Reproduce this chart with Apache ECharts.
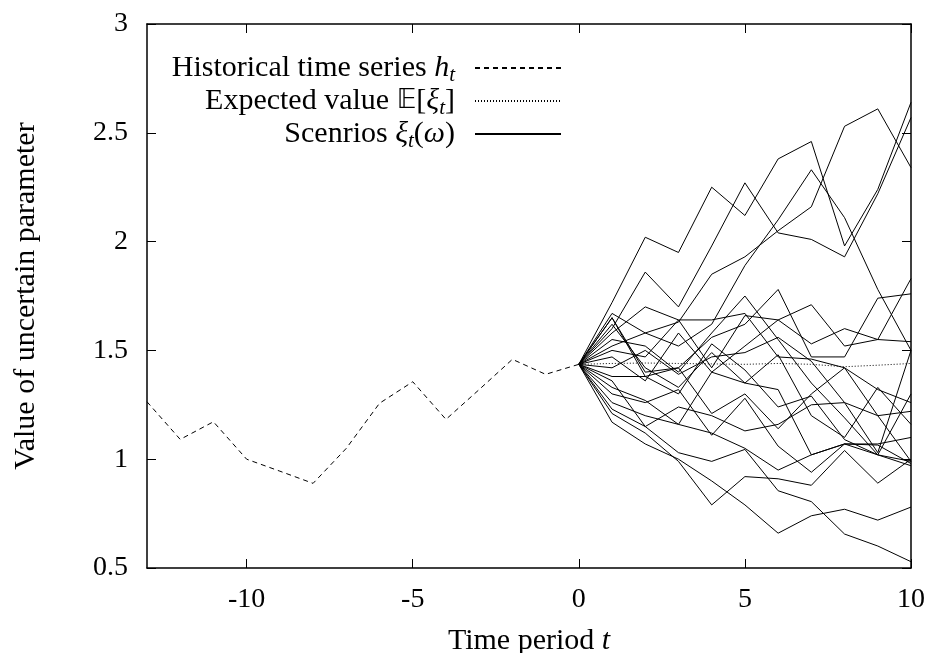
<!DOCTYPE html>
<html><head><meta charset="utf-8">
<script src="https://cdn.jsdelivr.net/npm/echarts@6/dist/echarts.min.js"></script>
<style>html,body{margin:0;padding:0;background:#fff}#c{width:931px;height:653px}</style>
</head><body><div id="c"></div>
<script>
// ---- data ----
const histT = [-13,-12,-11,-10,-9,-8,-7,-6,-5,-4,-3,-2,-1,0];
const histV = [1.264,1.091,1.172,1.000,0.945,0.889,1.050,1.257,1.356,1.183,1.320,1.459,1.390,1.436];
const scenT = [0,1,2,3,4,5,6,7,8,9,10];
const expectedV = [1.436,1.440,1.442,1.440,1.438,1.436,1.440,1.436,1.425,1.432,1.440];
const scen01 = [1.436,1.72,2.02,1.95,2.25,2.12,2.38,2.46,1.98,2.24,2.64];
const scen02 = [1.436,1.60,1.86,1.70,1.98,2.27,2.04,2.01,1.93,2.22,2.57];
const scen03 = [1.436,1.52,1.58,1.63,1.85,1.93,2.05,2.16,2.53,2.61,2.34];
const scen04 = [1.436,1.67,1.58,1.52,1.62,1.89,2.10,2.33,2.11,1.78,1.50];
const scen05 = [1.436,1.65,1.40,1.42,1.56,1.62,1.78,1.47,1.47,1.74,1.76];
const scen06 = [1.436,1.58,1.70,1.64,1.42,1.66,1.64,1.71,1.52,1.55,1.83];
const scen07 = [1.436,1.50,1.47,1.64,1.64,1.67,1.47,1.46,1.42,1.32,1.26];
const scen08 = [1.436,1.65,1.38,1.42,1.21,1.30,1.14,1.30,1.42,1.20,0.99];
const scen09 = [1.436,1.42,1.50,1.39,1.47,1.49,1.56,1.45,1.26,1.20,1.22];
const scen10 = [1.436,1.38,1.38,1.30,1.53,1.41,1.24,1.29,1.09,1.02,0.97];
const scen11 = [1.436,1.33,1.27,1.16,1.40,1.35,1.32,1.02,1.07,1.07,1.10];
const scen12 = [1.436,1.30,1.26,1.32,1.11,1.28,1.06,0.94,1.07,1.02,0.99];
const scen13 = [1.436,1.23,1.15,1.03,0.99,1.045,0.855,0.805,0.656,0.601,0.529];
const scen14 = [1.436,1.17,1.07,1.00,0.90,0.79,0.66,0.74,0.77,0.72,0.78];
const scen15 = [1.436,1.21,1.12,0.99,0.79,0.92,0.91,0.88,1.04,0.89,1.00];
const scen16 = [1.436,1.26,1.20,1.16,1.12,1.05,0.95,1.02,1.07,1.065,0.98];
const scen17 = [1.436,1.36,1.15,1.24,1.20,1.13,1.16,1.25,1.26,1.03,1.50];
const scen18 = [1.436,1.47,1.36,1.58,1.40,1.52,1.64,1.53,1.60,1.55,1.54];
const scen19 = [1.436,1.62,1.42,1.33,1.49,1.35,1.48,1.20,1.10,1.33,1.16];
const scen20 = [1.436,1.55,1.52,1.40,1.58,1.75,1.55,1.35,1.19,1.02,1.30];
const scenarios = [scen01,scen02,scen03,scen04,scen05,scen06,scen07,scen08,scen09,scen10,
                   scen11,scen12,scen13,scen14,scen15,scen16,scen17,scen18,scen19,scen20];
const xTicks = [-10,-5,0,5,10];
const nameHist = 'Historical time series h_t';
const nameExp = 'Expected value E[xi_t]';
const nameScen = 'Scenrios xi_t(omega)';

// ---- chart ----
const FONT = '"Liberation Serif","DejaVu Serif",serif';
const pair = (xs, ys) => xs.map((x, i) => [x, ys[i]]);
const chart = echarts.init(document.getElementById('c'), null, {renderer: 'canvas'});

const LF = 30;
const legendRich = {
  i: {fontFamily: FONT, fontSize: LF, fontStyle: 'italic', color: '#000'},
  s: {fontFamily: FONT, fontSize: 21, fontStyle: 'italic', color: '#000', padding: [15, 0, 0, 0]},
  n: {fontFamily: FONT, fontSize: LF, color: '#000'},
  d: {fontFamily: '"DejaVu Sans",' + FONT, fontSize: 27, color: '#000'}
};
const legendFmt = {};
legendFmt[nameHist] = '{n|Historical time series }{i|h}{s|t}';
legendFmt[nameExp] = '{n|Expected value }{d|𝔼}{n|[}{i|ξ}{s|t}{n|]}';
legendFmt[nameScen] = '{n|Scenrios }{i|ξ}{s|t}{n|(}{i|ω}{n|)}';

function mkLegend(name, top) {
  return {
    data: [name], right: 369, top: top, orient: 'vertical', align: 'right',
    itemWidth: 86, itemHeight: 14, itemGap: 0, padding: 0,
    itemStyle: {opacity: 0},
    formatter: n => legendFmt[n] + '{n|  }',
    textStyle: {fontFamily: FONT, fontSize: LF, color: '#000', rich: legendRich},
    selectedMode: false
  };
}

const series = [];
series.push({
  name: nameHist, type: 'line', data: pair(histT, histV), symbol: 'none',
  lineStyle: {color: '#000', width: 1, type: [5, 4]}, z: 3, silent: true
});
series.push({
  name: nameExp, type: 'line', data: pair(scenT, expectedV), symbol: 'none',
  lineStyle: {color: '#000', width: 1, type: [1, 2]}, z: 3, silent: true
});
scenarios.forEach(s => series.push({
  name: nameScen, type: 'line', data: pair(scenT, s), symbol: 'none',
  lineStyle: {color: '#000', width: 1, type: 'solid'}, z: 2, silent: true
}));

const axLine = {show: true, onZero: false, lineStyle: {color: '#000', width: 1.5}};
chart.setOption({
  animation: false,
  backgroundColor: '#fff',
  grid: {left: 147, right: 20, top: 24, bottom: 85, containLabel: false, outerBoundsMode: 'none'},
  legend: [mkLegend(nameHist, 53), mkLegend(nameExp, 86), mkLegend(nameScen, 119)],
  xAxis: [{
    type: 'value', min: -13, max: 10, position: 'bottom',
    axisLine: axLine, splitLine: {show: false},
    axisTick: {show: true, inside: true, length: 9, customValues: xTicks, lineStyle: {color: '#000', width: 1}},
    axisLabel: {customValues: xTicks, margin: 18, fontFamily: FONT, fontSize: 28, color: '#000'},
    name: 'Time period {i|t}', nameLocation: 'middle', nameGap: 58,
    nameTextStyle: {fontFamily: FONT, fontSize: 30, color: '#000',
      rich: {i: {fontFamily: FONT, fontSize: 30, fontStyle: 'italic', color: '#000'}}}
  }, {
    type: 'value', min: -13, max: 10, position: 'top',
    axisLine: axLine, splitLine: {show: false},
    axisTick: {show: true, inside: true, length: 9, customValues: xTicks, lineStyle: {color: '#000', width: 1}},
    axisLabel: {show: false}
  }],
  yAxis: [{
    type: 'value', min: 0.5, max: 3, interval: 0.5, position: 'left',
    axisLine: axLine, splitLine: {show: false},
    axisTick: {show: true, inside: true, length: 9, lineStyle: {color: '#000', width: 1}},
    axisLabel: {margin: 19, fontFamily: FONT, fontSize: 28, color: '#000',
      formatter: v => String(v)},
    name: 'Value of uncertain parameter', nameLocation: 'middle', nameGap: 106, nameRotate: 90,
    nameTextStyle: {fontFamily: FONT, fontSize: 30, color: '#000'}
  }, {
    type: 'value', min: 0.5, max: 3, interval: 0.5, position: 'right',
    axisLine: axLine, splitLine: {show: false},
    axisTick: {show: true, inside: true, length: 9, lineStyle: {color: '#000', width: 1}},
    axisLabel: {show: false}
  }],
  series: series
});
</script></body></html>
